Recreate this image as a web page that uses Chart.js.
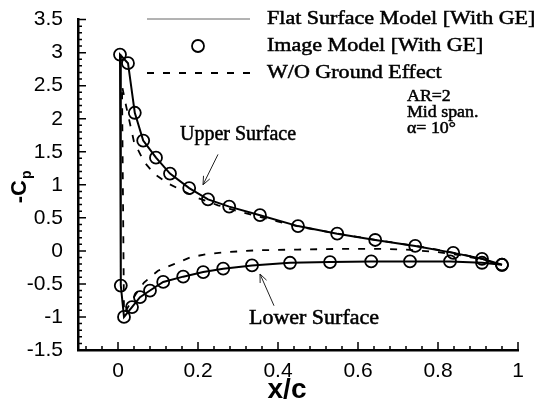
<!DOCTYPE html>
<html>
<head>
<meta charset="utf-8">
<script src="https://cdn.jsdelivr.net/npm/chart.js@4"></script>
<style>
  html, body { margin: 0; padding: 0; background: #fff; }
  #wrap { width: 551px; height: 401px; }
</style>
</head>
<body>
<div id="wrap"><canvas id="cpChart"></canvas></div>
<script>
// x/c stations, upper surface from trailing edge to leading edge
const upperX = [0.96, 0.91, 0.838, 0.743, 0.643, 0.548, 0.45, 0.355, 0.278, 0.225, 0.178, 0.13, 0.095, 0.063, 0.042, 0.025, 0.005];
const upperY = [-0.21, -0.12, -0.03, 0.075, 0.165, 0.26, 0.375, 0.54, 0.67, 0.78, 0.95, 1.17, 1.41, 1.67, 2.09, 2.84, 2.97];
// lower surface from leading edge to trailing edge
const lowerX = [0.007, 0.015, 0.035, 0.055, 0.08, 0.113, 0.163, 0.213, 0.263, 0.335, 0.43, 0.53, 0.633, 0.73, 0.83, 0.91, 0.96];
const lowerY = [-0.525, -1.0, -0.85, -0.70, -0.60, -0.47, -0.39, -0.32, -0.27, -0.22, -0.18, -0.17, -0.16, -0.16, -0.16, -0.18, -0.21];

// without ground effect (dashed)
const woUpperX = [0.96, 0.91, 0.85, 0.75, 0.65, 0.55, 0.45, 0.35, 0.3, 0.25, 0.2, 0.165, 0.125, 0.09, 0.065, 0.04, 0.02, 0.01];
const woUpperY = [-0.21, -0.12, -0.04, 0.07, 0.16, 0.26, 0.37, 0.52, 0.6, 0.69, 0.8, 0.9, 1.02, 1.17, 1.35, 1.65, 2.2, 2.5];
const woLowerX = [0.015, 0.03, 0.045, 0.065, 0.1, 0.14, 0.18, 0.22, 0.27, 0.35, 0.45, 0.55, 0.65, 0.72, 0.8, 0.85, 0.91, 0.96];
const woLowerY = [-0.95, -0.8, -0.65, -0.48, -0.3, -0.2, -0.1, -0.05, -0.02, 0.01, 0.02, 0.03, 0.03, 0.02, -0.02, -0.06, -0.13, -0.21];

const xTicks = [0, 0.2, 0.4, 0.6, 0.8, 1];
const yTicks = [-1.5, -1, -0.5, 0, 0.5, 1, 1.5, 2, 2.5, 3, 3.5];

const legendLabels = ['Flat Surface Model [With GE]', 'Image Model [With GE]', 'W/O Ground Effect'];
const caseNotes = ['AR=2', 'Mid span.', '\u03b1= 10\u00b0'];

function toPoints(xs, ys) {
    return xs.map((x, i) => ({ x: x, y: ys[i] }));
}

const surfaceX = upperX.concat(lowerX);
const surfaceY = upperY.concat(lowerY);

const serif = '"Liberation Serif", "Times New Roman", serif';
const sans = '"Liberation Sans", Arial, sans-serif';

// serif text, slightly stretched and thickened like the scanned figure
function serifText(ctx, text, x, y, size, align, sx) {
    ctx.save();
    ctx.font = size + 'px ' + serif;
    ctx.fillStyle = '#000';
    ctx.strokeStyle = '#000';
    ctx.lineWidth = 0.5;
    ctx.textBaseline = 'middle';
    let w = ctx.measureText(text).width * sx;
    let x0 = align === 'center' ? x - w / 2 : x;
    ctx.translate(x0, y);
    ctx.scale(sx, 1);
    ctx.textAlign = 'left';
    ctx.fillText(text, 0, 0);
    ctx.strokeText(text, 0, 0);
    ctx.restore();
}

function arrow(ctx, x1, y1, x2, y2) {
    ctx.save();
    ctx.strokeStyle = '#222';
    ctx.lineWidth = 1;
    ctx.beginPath();
    ctx.moveTo(x1, y1);
    ctx.lineTo(x2, y2);
    const a = Math.atan2(y2 - y1, x2 - x1);
    const L = 9;
    ctx.moveTo(x2, y2);
    ctx.lineTo(x2 - L * Math.cos(a - 0.4), y2 - L * Math.sin(a - 0.4));
    ctx.moveTo(x2, y2);
    ctx.lineTo(x2 - L * Math.cos(a + 0.4), y2 - L * Math.sin(a + 0.4));
    ctx.stroke();
    ctx.restore();
}

const decorPlugin = {
    id: 'decor',
    afterDraw(chart) {
        const ctx = chart.ctx;
        const xs = chart.scales.x;
        const ys = chart.scales.y;
        const area = chart.chartArea;

        // inward ticks, major and minor
        ctx.save();
        ctx.strokeStyle = '#000';
        ctx.lineWidth = 1.5;
        ctx.beginPath();
        for (let i = -2; i <= 25; i++) {
            const px = xs.getPixelForValue(i * 0.04);
            if (px < area.left || px > area.right + 0.5) continue;
            const len = (i % 5 === 0) ? 8 : 4;
            ctx.moveTo(px, area.bottom);
            ctx.lineTo(px, area.bottom - len);
        }
        for (let i = -15; i <= 35; i++) {
            const py = ys.getPixelForValue(i * 0.1);
            const len = (i % 5 === 0) ? 8 : 4;
            ctx.moveTo(area.left, py);
            ctx.lineTo(area.left + len, py);
        }
        ctx.stroke();
        ctx.restore();

        // axis titles
        ctx.save();
        ctx.fillStyle = '#000';
        ctx.font = 'bold 28px ' + sans;
        ctx.textAlign = 'center';
        ctx.textBaseline = 'middle';
        ctx.fillText('x/c', 287, 390);
        ctx.translate(20, 184);
        ctx.rotate(-Math.PI / 2);
        ctx.font = 'bold 22px ' + sans;
        ctx.textAlign = 'right';
        ctx.fillText('-C', 4, 0);
        ctx.font = 'bold 14px ' + sans;
        ctx.textAlign = 'left';
        ctx.fillText('p', 5, 7);
        ctx.restore();

        // legend
        const rows = [19, 46, 73];
        ctx.save();
        ctx.strokeStyle = '#666';
        ctx.lineWidth = 1;
        ctx.beginPath();
        ctx.moveTo(147, rows[0]);
        ctx.lineTo(250, rows[0]);
        ctx.stroke();
        ctx.strokeStyle = '#000';
        ctx.lineWidth = 1.8;
        ctx.beginPath();
        ctx.arc(198, rows[1], 6, 0, Math.PI * 2);
        ctx.stroke();
        ctx.setLineDash([7, 9]);
        ctx.beginPath();
        ctx.moveTo(147, rows[2]);
        ctx.lineTo(250, rows[2]);
        ctx.stroke();
        ctx.restore();
        legendLabels.forEach((t, i) => serifText(ctx, t, 267, rows[i], 19, 'left', 1.16));

        // case notes
        caseNotes.forEach((t, i) => serifText(ctx, t, 407, 97 + i * 16, 17, 'left', 1.05));

        // surface labels with arrows
        serifText(ctx, 'Upper Surface', xs.getPixelForValue(0.3), ys.getPixelForValue(1.75), 20, 'center', 1.0);
        arrow(ctx, xs.getPixelForValue(0.25), ys.getPixelForValue(1.46), xs.getPixelForValue(0.2125), ys.getPixelForValue(1.0));
        serifText(ctx, 'Lower Surface', xs.getPixelForValue(0.49), ys.getPixelForValue(-1.02), 20, 'center', 1.1);
        arrow(ctx, xs.getPixelForValue(0.39), ys.getPixelForValue(-0.83), xs.getPixelForValue(0.355), ys.getPixelForValue(-0.35));
    }
};

const chartConfig = {
    type: 'scatter',
    data: {
        datasets: [
            {
                label: legendLabels[0],
                data: toPoints(surfaceX, surfaceY),
                showLine: true,
                borderColor: '#000',
                borderWidth: 2,
                pointRadius: 0,
                fill: false,
                tension: 0
            },
            {
                label: legendLabels[1],
                data: toPoints(surfaceX, surfaceY),
                showLine: false,
                pointStyle: 'circle',
                pointRadius: 6,
                pointBorderWidth: 1.8,
                pointBorderColor: '#000',
                pointBackgroundColor: 'rgba(255,255,255,0)'
            },
            {
                label: legendLabels[2],
                data: toPoints(woUpperX.concat(woLowerX), woUpperY.concat(woLowerY)),
                showLine: true,
                borderColor: '#000',
                borderWidth: 1.8,
                borderDash: [7, 9],
                pointRadius: 0,
                fill: false,
                tension: 0
            }
        ]
    },
    options: {
        responsive: true,
        maintainAspectRatio: false,
        animation: false,
        events: [],
        layout: {
            padding: { top: 17, right: 33, left: 0, bottom: 0 }
        },
        plugins: {
            legend: { display: false },
            tooltip: { enabled: false }
        },
        scales: {
            x: {
                type: 'linear',
                min: -0.1,
                max: 1.0,
                afterBuildTicks: function(scale) {
                    scale.ticks = xTicks.map(v => ({ value: v }));
                },
                afterFit: function(scale) {
                    scale.height = 51;
                },
                grid: { display: false },
                border: { display: true, color: '#000', width: 2.5 },
                ticks: {
                    color: '#000',
                    padding: 1,
                    maxRotation: 0,
                    autoSkip: false,
                    font: { family: sans, size: 21 },
                    callback: v => String(v)
                }
            },
            y: {
                type: 'linear',
                min: -1.5,
                max: 3.5,
                afterBuildTicks: function(scale) {
                    scale.ticks = yTicks.map(v => ({ value: v }));
                },
                afterFit: function(scale) {
                    scale.width = 78;
                },
                grid: { display: false },
                border: { display: true, color: '#000', width: 2.5 },
                ticks: {
                    color: '#000',
                    padding: 7,
                    autoSkip: false,
                    font: { family: sans, size: 21 },
                    callback: v => String(v)
                }
            }
        }
    },
    plugins: [decorPlugin]
};

const cpChart = new Chart(document.getElementById('cpChart').getContext('2d'), chartConfig);
</script>
</body>
</html>
